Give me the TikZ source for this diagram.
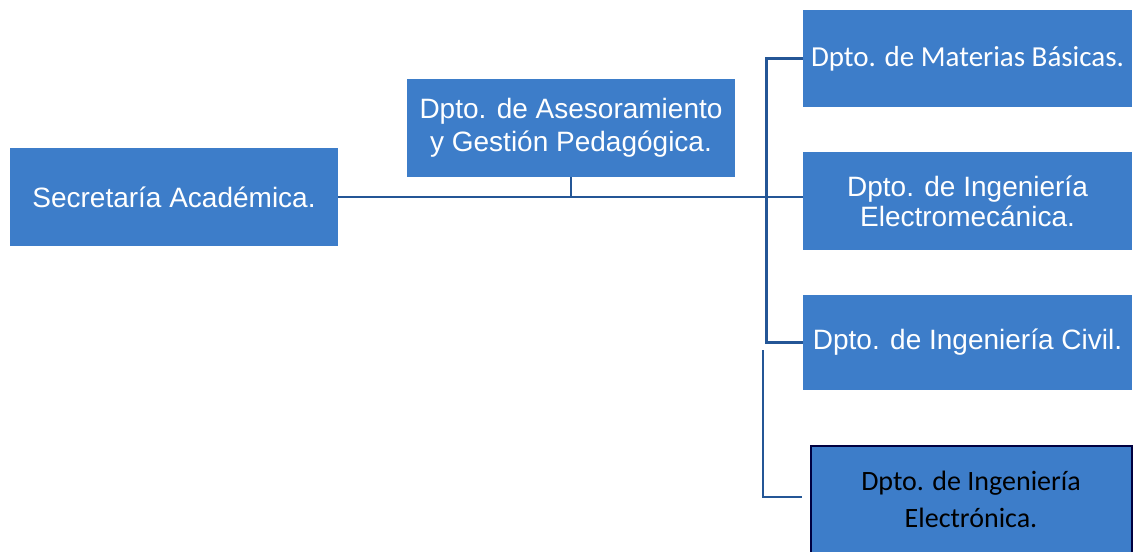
\documentclass[tikz,border=0pt]{standalone}
\usepackage{fontspec}
\setmainfont{Liberation Sans}
\newfontfamily\calibri{Carlito}
\usepackage{tikz}
\usetikzlibrary{calc,positioning}
\usepackage{xcolor}
\definecolor{deptblue}{RGB}{61,125,201}
\definecolor{linkblue}{RGB}{36,86,150}
\tikzset{
  dept/.style={rectangle,fill=deptblue,text=white,align=center,inner sep=0pt,
    minimum width=329pt,minimum height=98pt,font=\fontsize{28}{33}\selectfont},
  link/.style={draw=linkblue,line width=2.8pt},
  every node/.style={font=\small}
}
\tikzstyle{thinlink} = [draw=linkblue,line width=1.1pt]

\begin{document}
\begin{tikzpicture}[x=1pt,y=-1pt]
  \useasboundingbox[fill=white] (0,0) rectangle (1134,551);
  \node[dept,minimum width=328pt] (sec) at (174,197) {Secretaría Académica.};
  \node[dept,minimum width=328pt] (ase) at (571,128)
    {Dpto. de Asesoramiento\\y Gestión Pedagógica.};
  \node[dept,minimum height=97pt,font=\calibri\fontsize{29}{34}\selectfont]
    (mb) at (967.5,58.5) {Dpto. de Materias Básicas.};
  \node[dept,font=\fontsize{28}{30}\selectfont] (em) at (967.5,201)
    {Dpto. de Ingeniería\\Electromecánica.};
  \node[dept,minimum height=95pt] (civ) at (967.5,342.5) {Dpto. de Ingeniería Civil.};
  \node[dept,minimum width=321pt,minimum height=107pt,draw=black!75!blue,line width=2pt,
    text=black,font=\calibri\fontsize{28}{37}\selectfont] (ele) at (971,499)
    {Dpto. de Ingeniería\\Electrónica.};
  % connectors
  \draw[link] (sec.east) -- (sec.east -| em.west);
  \draw[link] (ase.south) -- (ase.south |- sec.east);
  \draw[link] (mb.west) -- ++(-36,0) |- (civ.west);
  \coordinate (elup) at (763,350);
  \coordinate (elend) at ([xshift=-8pt,yshift=2pt]ele.west);
  \draw[thinlink] (elup) |- (elend);
\end{tikzpicture}
\end{document}
